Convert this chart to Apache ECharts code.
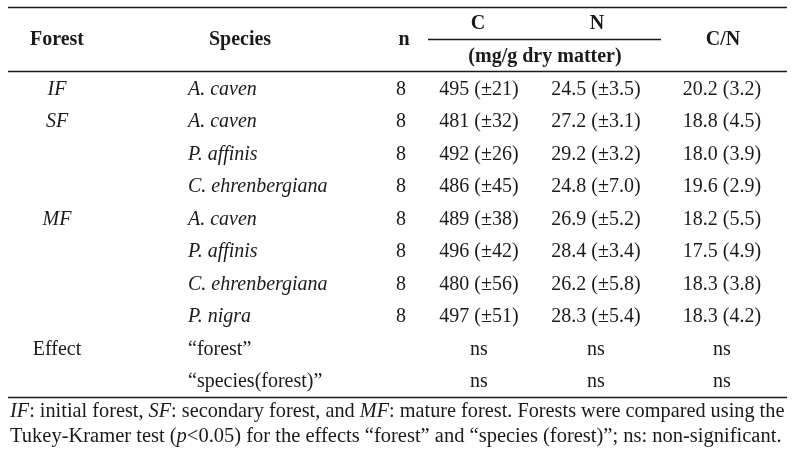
<!DOCTYPE html>
<html><head><meta charset="utf-8">
<script src="https://cdn.jsdelivr.net/npm/echarts@6/dist/echarts.min.js"></script>
<style>html,body{margin:0;padding:0;background:#fff}#c{width:798px;height:456px}</style>
</head><body><div id="c"></div>
<script>
// ---- data ----
var forests = ['IF', 'SF', '', '', 'MF', '', '', ''];
var species = ['A. caven', 'A. caven', 'P. affinis', 'C. ehrenbergiana', 'A. caven', 'P. affinis', 'C. ehrenbergiana', 'P. nigra'];
var nValues = [8, 8, 8, 8, 8, 8, 8, 8];
var cMean = [495, 481, 492, 486, 489, 496, 480, 497];
var cSd = [21, 32, 26, 45, 38, 42, 56, 51];
var nMean = [24.5, 27.2, 29.2, 24.8, 26.9, 28.4, 26.2, 28.3];
var nSd = [3.5, 3.1, 3.2, 7.0, 5.2, 3.4, 5.8, 5.4];
var cnMean = [20.2, 18.8, 18.0, 19.6, 18.2, 17.5, 18.3, 18.3];
var cnSd = [3.2, 4.5, 3.9, 2.9, 5.5, 4.9, 3.8, 4.2];
var effectLabel = ['Effect', ''];
var effects = ['\u201cforest\u201d', '\u201cspecies(forest)\u201d'];
var effC = ['ns', 'ns'];
var effN = ['ns', 'ns'];
var effCN = ['ns', 'ns'];
var headers = ['Forest', 'Species', 'n', 'C', 'N', '(mg/g dry matter)', 'C/N'];
var footLines = [
  '{i|IF}: initial forest, {i|SF}: secondary forest, and {i|MF}: mature forest. Forests were compared using the',
  'Tukey-Kramer test ({i|p}<0.05) for the effects \u201cforest\u201d and \u201cspecies (forest)\u201d; ns: non-significant.'
];

// ---- layout ----
var rows = ['h1', 'h2'];
for (var i = 0; i < species.length; i++) rows.push('r' + i);
rows.push('e0', 'e1');
var COL = { forest: 57, species: 188, n: 401, c: 479, nn: 596, cnh: 545, cn: 722 };
var FONT = 'Liberation Serif';
var INK = '#1a1a1a';

function cell(x, row, text, opts) {
  opts = opts || {};
  return {
    value: [x, row],
    label: {
      show: true, formatter: String(text), position: [0, 0],
      align: opts.align || 'center', verticalAlign: 'middle',
      fontFamily: FONT, fontSize: 20, color: INK, opacity: 1,
      fontStyle: opts.italic ? 'italic' : 'normal',
      fontWeight: opts.bold ? 'bold' : 'normal',
      offset: opts.offset || [0, 1]
    }
  };
}
function col(name, items) {
  return { type: 'scatter', name: name, symbolSize: 0, data: items, silent: true, animation: false,
    itemStyle: { opacity: 1 }, label: { opacity: 1 }, emphasis: { disabled: true } };
}

var head = [
  cell(COL.forest, 'h2', headers[0], { bold: true, offset: [0, -15.5] }),
  cell(COL.species + 52, 'h2', headers[1], { bold: true, offset: [0, -15.5] }),
  cell(COL.n + 3, 'h2', headers[2], { bold: true, offset: [0, -15.5] }),
  cell(COL.c - 1, 'h1', headers[3], { bold: true }),
  cell(COL.nn + 1, 'h1', headers[4], { bold: true }),
  cell(COL.cnh, 'h2', headers[5], { bold: true }),
  cell(COL.cn + 1, 'h2', headers[6], { bold: true, offset: [0, -15.5] })
];
var fCol = [], sCol = [], nCol = [], cCol = [], nnCol = [], cnCol = [];
for (var i = 0; i < species.length; i++) {
  var r = 'r' + i;
  if (forests[i]) fCol.push(cell(COL.forest, r, forests[i], { italic: true }));
  sCol.push(cell(COL.species, r, species[i], { italic: true, align: 'left' }));
  nCol.push(cell(COL.n, r, nValues[i]));
  cCol.push(cell(COL.c, r, cMean[i] + ' (\u00b1' + cSd[i] + ')'));
  nnCol.push(cell(COL.nn, r, nMean[i].toFixed(1) + ' (\u00b1' + nSd[i].toFixed(1) + ')'));
  cnCol.push(cell(COL.cn, r, cnMean[i].toFixed(1) + ' (' + cnSd[i].toFixed(1) + ')'));
}
for (var j = 0; j < effects.length; j++) {
  var r = 'e' + j;
  if (effectLabel[j]) fCol.push(cell(COL.forest, r, effectLabel[j]));
  sCol.push(cell(COL.species, r, effects[j], { align: 'left' }));
  cCol.push(cell(COL.c, r, effC[j]));
  nnCol.push(cell(COL.nn, r, effN[j]));
  cnCol.push(cell(COL.cn, r, effCN[j]));
}

function hline(x1, x2, y) {
  return { type: 'line', shape: { x1: x1, y1: y, x2: x2, y2: y }, style: { stroke: INK, lineWidth: 1.6 }, silent: true };
}
function foot(y, t, fs) {
  return { type: 'text', left: 10, top: y - 11, silent: true,
    style: { text: t, fontFamily: FONT, fontSize: fs, fill: INK,
      rich: { i: { fontStyle: 'italic', fontFamily: FONT, fontSize: fs, fill: INK } } } };
}

var chart = echarts.init(document.getElementById('c'), null, { renderer: 'canvas' });
chart.setOption({
  animation: false,
  backgroundColor: '#fff',
  grid: { left: 0, right: 0, top: 7, bottom: 59, containLabel: false },
  xAxis: { type: 'value', min: 0, max: 798, show: false },
  yAxis: { type: 'category', data: rows, inverse: true, show: false, boundaryGap: true },
  series: [col('head', head), col('forest', fCol), col('species', sCol), col('n', nCol),
           col('C', cCol), col('N', nnCol), col('CN', cnCol)],
  graphic: [
    hline(8, 787, 7.5), hline(428, 661, 39.5), hline(8, 787, 71.5), hline(8, 787, 397.5),
    foot(413, footLines[0], 20.3), foot(437, footLines[1], 20.5)
  ]
});
</script></body></html>
